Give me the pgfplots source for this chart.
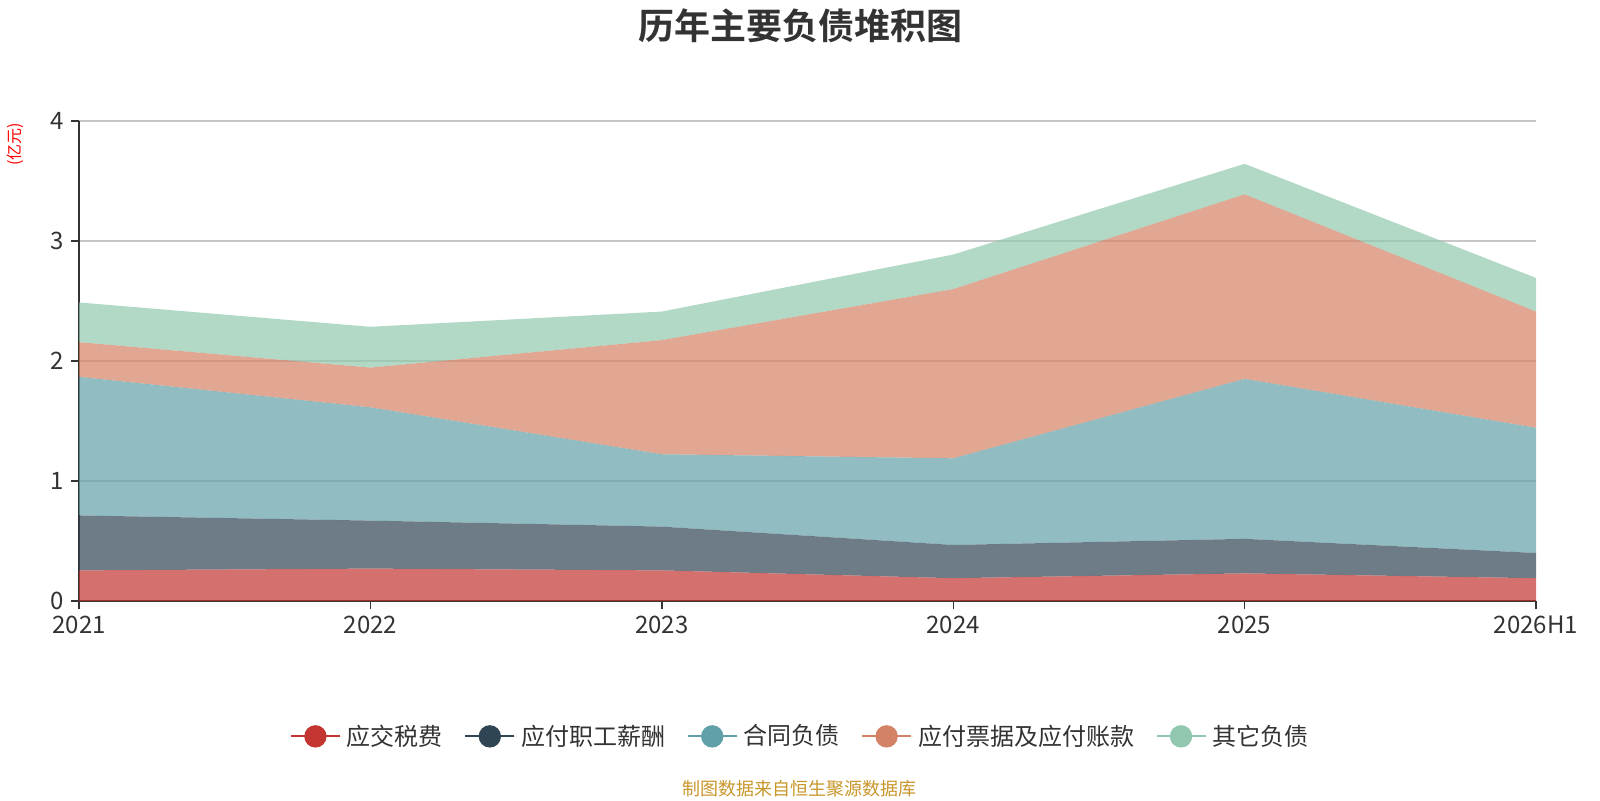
\documentclass[border=0pt]{standalone}
\usepackage{pgfplots}
\pgfplotsset{compat=1.18}
\usepackage{fontspec}
\setmainfont{Noto Sans CJK SC}[BoldFont={Noto Sans CJK SC Bold}]
\definecolor{c1}{HTML}{C23531}
\definecolor{c2}{HTML}{2F4554}
\definecolor{c3}{HTML}{61A0A8}
\definecolor{c4}{HTML}{D48265}
\definecolor{c5}{HTML}{91C7AE}
\definecolor{txt}{HTML}{333333}
\definecolor{foot}{HTML}{C8962A}
\newcommand{\legimg}[1]{\path (0pt,0pt) -- (26pt,0pt); \draw[#1, line width=1pt, opacity=1] (0pt,0pt) -- (24.5pt,0pt); \fill[#1, fill opacity=1] (12.25pt,0pt) circle (5.6pt);}
\begin{document}
\begin{tikzpicture}[x=1pt,y=1pt]
\path (0,0) rectangle (800,400);
\node[font=\bfseries\fontsize{18}{20}\selectfont, text=txt] at (400,387.2) {历年主要负债堆积图};
\node[rotate=90, text=red, font=\fontsize{8}{9}\selectfont] at (7.7,328) {(亿元)};
\begin{axis}[
  at={(39.5pt,99.5pt)}, anchor=origin,
  scale only axis, width=728.5pt, height=240pt,
  xmin=0, xmax=5, ymin=0, ymax=4,
  stack plots=y,
  axis lines=left, axis line style={-, color=txt, line width=0.7pt},
  xtick={0,1,2,3,4,5},
  xticklabels={2021,2022,2023,2024,2025,2026H1},
  ytick={0,1,2,3,4},
  ymajorgrids, grid style={color=black!22, line width=0.6pt},
  tick style={color=txt, line width=0.7pt},
  tick align=outside, major tick length=4pt,
  ticklabel style={font=\fontsize{12}{14}\selectfont, text=txt},
  /pgf/number format/assume math mode=true,
  legend columns=5,
  legend style={at={(0.4957,-0.282)}, anchor=center, draw=none, fill=none,
    font=\fontsize{12}{14}\selectfont, text=txt,
    /tikz/every even column/.append style={column sep=8.7pt}},
  legend cell align=left,
]
\addplot[fill=c1, fill opacity=0.7, draw=none, legend image code/.code={\legimg{c1}}]
  coordinates {(0,0.255) (1,0.27) (2,0.255) (3,0.19) (4,0.23) (5,0.19)} \closedcycle;
\addlegendentry{应交税费}
\addplot[fill=c2, fill opacity=0.7, draw=none, legend image code/.code={\legimg{c2}}]
  coordinates {(0,0.458) (1,0.40) (2,0.365) (3,0.277) (4,0.288) (5,0.21)} \closedcycle;
\addlegendentry{应付职工薪酬}
\addplot[fill=c3, fill opacity=0.7, draw=none, legend image code/.code={\legimg{c3}}]
  coordinates {(0,1.155) (1,0.944) (2,0.603) (3,0.722) (4,1.333) (5,1.044)} \closedcycle;
\addlegendentry{合同负债}
\addplot[fill=c4, fill opacity=0.7, draw=none, legend image code/.code={\legimg{c4}}]
  coordinates {(0,0.289) (1,0.331) (2,0.951) (3,1.41) (4,1.538) (5,0.968)} \closedcycle;
\addlegendentry{应付票据及应付账款}
\addplot[fill=c5, fill opacity=0.7, draw=none, legend image code/.code={\legimg{c5}}]
  coordinates {(0,0.331) (1,0.34) (2,0.238) (3,0.288) (4,0.254) (5,0.28)} \closedcycle;
\addlegendentry{其它负债}
\draw[txt, line width=0.7pt] (rel axis cs:0,1) -- (rel axis cs:0,0) -- (rel axis cs:1,0);
\end{axis}
\node[text=foot, font=\fontsize{9}{10}\selectfont] at (399.5,5.5) {制图数据来自恒生聚源数据库};
\pgfresetboundingbox
\path[use as bounding box] (0,0) rectangle (800,400);
\end{tikzpicture}
\end{document}
